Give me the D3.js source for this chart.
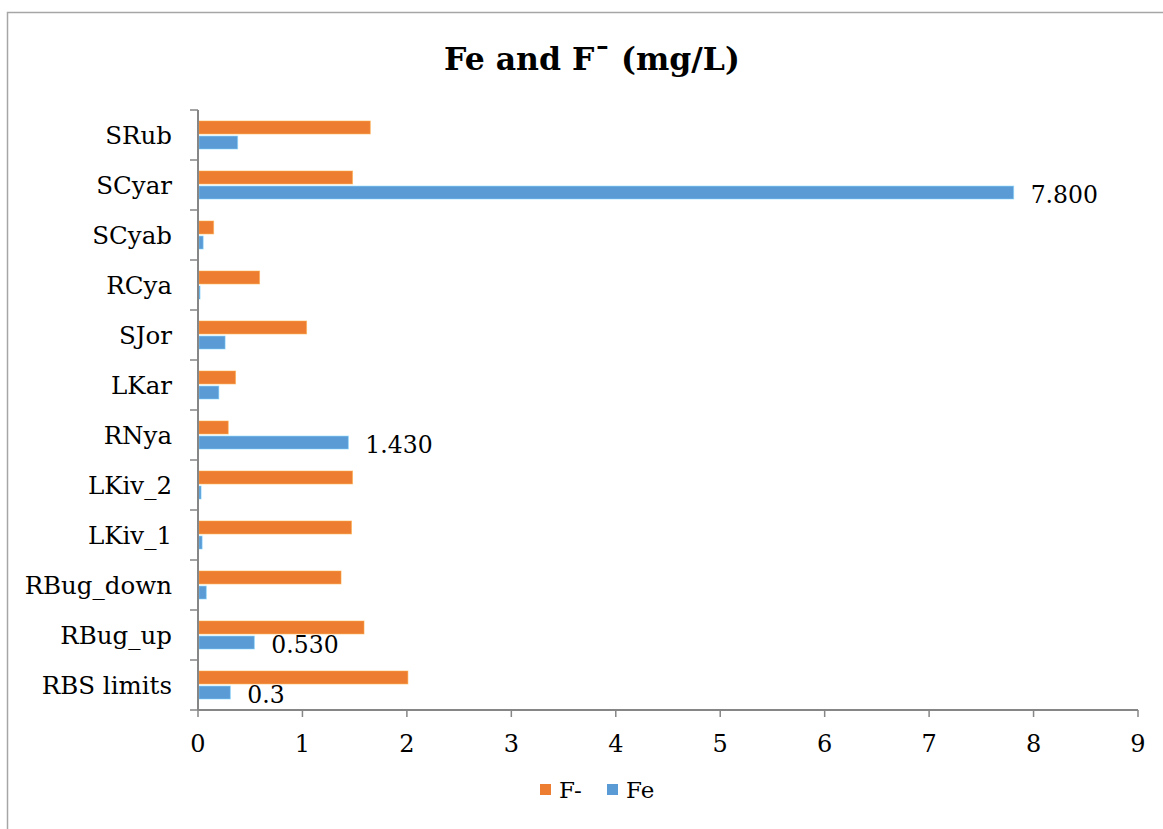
<!DOCTYPE html>
<html>
<head>
<meta charset="utf-8">
<script src="https://cdn.jsdelivr.net/npm/d3@7/dist/d3.min.js"></script>
<style>
  html, body { margin: 0; padding: 0; background: #fff; }
  svg { display: block; }
  text { font-family: "DejaVu Serif", "Liberation Serif", serif; fill: #000; }
</style>
</head>
<body>
<svg id="chart" width="1163" height="829"></svg>
<script>
// Sampling sites, listed top to bottom
const categories = ["SRub", "SCyar", "SCyab", "RCya", "SJor", "LKar", "RNya",
                    "LKiv_2", "LKiv_1", "RBug_down", "RBug_up", "RBS limits"];
// Fluoride (mg/L)
const fluoride = [1.64, 1.47, 0.14, 0.58, 1.03, 0.35, 0.28, 1.47, 1.46, 1.36, 1.58, 2.0];
// Iron (mg/L)
const iron = [0.37, 7.8, 0.04, 0.01, 0.25, 0.19, 1.43, 0.02, 0.03, 0.07, 0.53, 0.3];
// Value labels printed beside some iron bars (null = no label)
const ironLabels = [null, "7.800", null, null, null, null, "1.430", null, null, null, "0.530", "0.3"];
const seriesNames = ["F-", "Fe"];
const seriesColors = ["#ED7D31", "#5B9BD5"];
const xTicks = [0, 1, 2, 3, 4, 5, 6, 7, 8, 9];

const svg = d3.select("#chart");
const plot = { left: 198, right: 1138, top: 110, bottom: 710 };

// Outer chart frame (only top and left edges fall inside the canvas)
svg.append("path")
  .attr("d", "M7.5,829 L7.5,12.5 L1163,12.5")
  .attr("fill", "none").attr("stroke", "#A6A6A6").attr("stroke-width", 1.5);

const x = d3.scaleLinear().domain([0, 9]).range([plot.left, plot.right]);
const y0 = d3.scaleBand().domain(categories).range([plot.top, plot.bottom]);
const y1 = d3.scaleBand().domain(seriesNames).range([11, 39]).paddingInner(0.14);

const rows = categories.map((c, i) => ({
  cat: c,
  vals: [
    { s: "F-", v: fluoride[i], color: seriesColors[0] },
    { s: "Fe", v: iron[i], color: seriesColors[1], label: ironLabels[i] }
  ]
}));

// Bars
const g = svg.append("g");
const grp = g.selectAll("g.row").data(rows).join("g")
  .attr("class", "row")
  .attr("transform", d => `translate(0,${y0(d.cat)})`);

grp.selectAll("rect").data(d => d.vals).join("rect")
  .attr("x", x(0) + 1)
  .attr("y", d => y1(d.s))
  .attr("width", d => Math.max(0, x(d.v) - x(0)))
  .attr("height", y1.bandwidth())
  .attr("fill", d => d.color)
  .attr("stroke", d => d3.color(d.color).brighter(0.9))
  .attr("stroke-opacity", 0.55)
  .attr("stroke-width", 1);

// Value labels
grp.selectAll("text.val").data(d => d.vals.filter(v => v.label)).join("text")
  .attr("class", "val")
  .attr("x", d => x(d.v) + 18)
  .attr("y", d => y1(d.s) + y1.bandwidth() / 2 + 2)
  .attr("dominant-baseline", "central")
  .attr("font-size", 23.5)
  .text(d => d.label);

// Axes
const axisColor = "#868686";
const yAxis = svg.append("g").attr("transform", `translate(${plot.left},0)`);
yAxis.append("line")
  .attr("x1", 0).attr("x2", 0).attr("y1", plot.top).attr("y2", plot.bottom)
  .attr("stroke", axisColor).attr("stroke-width", 2);
const boundaries = d3.range(categories.length + 1).map(i => plot.top + i * y0.step());
yAxis.selectAll("line.tk").data(boundaries).join("line")
  .attr("class", "tk")
  .attr("x1", -8).attr("x2", 0).attr("y1", d => d).attr("y2", d => d)
  .attr("stroke", axisColor).attr("stroke-width", 1.5);
yAxis.selectAll("text").data(categories).join("text")
  .attr("x", -26)
  .attr("y", d => y0(d) + y0.bandwidth() / 2)
  .attr("text-anchor", "end")
  .attr("dominant-baseline", "central")
  .attr("font-size", 24.5)
  .text(d => d);

const xAxis = svg.append("g").attr("transform", `translate(0,${plot.bottom})`);
xAxis.append("line")
  .attr("x1", plot.left).attr("x2", plot.right).attr("y1", 0).attr("y2", 0)
  .attr("stroke", axisColor).attr("stroke-width", 2);
xAxis.selectAll("line.tk").data(xTicks).join("line")
  .attr("class", "tk")
  .attr("x1", d => x(d)).attr("x2", d => x(d)).attr("y1", 0).attr("y2", 7)
  .attr("stroke", axisColor).attr("stroke-width", 1.5);
xAxis.selectAll("text").data(xTicks).join("text")
  .attr("x", d => x(d))
  .attr("y", 42)
  .attr("text-anchor", "middle")
  .attr("font-size", 24)
  .text(d => d);

// Title
svg.append("text")
  .attr("x", 592).attr("y", 70)
  .attr("text-anchor", "middle")
  .attr("font-size", 31.5)
  .attr("font-weight", "bold")
  .text("Fe and F\u00AF (mg/L)");

// Legend
const legend = svg.append("g").attr("transform", "translate(540,789)");
const legItems = [{ name: seriesNames[0], color: seriesColors[0], x: 0 },
                  { name: seriesNames[1], color: seriesColors[1], x: 67 }];
legItems.forEach(it => {
  legend.append("rect").attr("x", it.x).attr("y", -5).attr("width", 11).attr("height", 11)
    .attr("fill", it.color);
  legend.append("text").attr("x", it.x + 19).attr("y", 1)
    .attr("dominant-baseline", "central").attr("font-size", 23).text(it.name);
});
</script>
</body>
</html>
